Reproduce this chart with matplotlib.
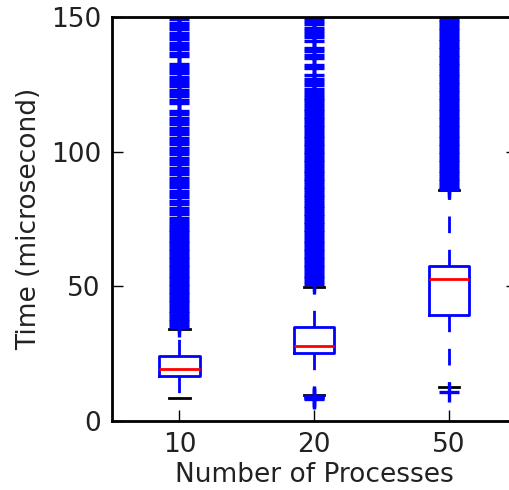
import matplotlib
matplotlib.use('Agg')
import matplotlib.pyplot as plt

# ---- data ----
categories = ['10', '20', '50']
q1 = [16.8, 25.1, 39.3]
median = [19.2, 27.8, 52.7]
q3 = [24.1, 35.0, 57.6]
whisker_low = [8.4, 9.7, 12.8]
whisker_high = [34.2, 49.8, 85.8]

fliers_10 = [35, 36, 37, 38, 39, 40, 41, 42, 43, 44, 45, 46, 47, 48, 49, 50,
             51, 52, 53, 54, 55, 56, 57, 58, 59, 60, 61, 62, 63, 64, 65, 66,
             67, 68, 69, 70, 71, 72, 73,
             74.3, 75.5, 76.9, 78.1, 79.2, 80.6, 81.8, 83.0, 84.1, 85.5, 86.7,
             88.0, 89.2, 90.3, 91.7, 92.9, 94.1, 95.4, 96.6, 97.8, 99.0, 100.3,
             101.5, 102.8, 104.0, 105.2, 106.5, 107.7, 108.9, 110.2, 111.4,
             112.6, 113.9, 115.1, 118.0, 119.2, 120.5, 121.7, 122.9, 124.2,
             125.4, 126.6, 127.9, 129.1, 130.3, 131.6, 132.7, 135.5, 136.7,
             138.0, 139.2, 140.4, 141.7, 142.9, 144.1, 145.4, 146.6, 147.8,
             149.1, 150.5, 152.0]
fliers_20 = [8.0, 8.4, 8.8, 9.2,
             51, 52, 53, 54, 55, 56, 57, 58, 59, 60, 61, 62, 63, 64, 65, 66,
             67, 68, 69, 70, 71, 72, 73, 74, 75, 76, 77, 78, 79, 80, 81, 82,
             83, 84, 85, 86, 87, 88, 89, 90, 91, 92, 93, 94, 95, 96, 97, 98,
             99, 100, 101, 102, 103, 104, 105, 106, 107, 108, 109, 110, 111,
             112, 113, 114, 115, 116, 117, 118, 119, 120, 121, 122,
             123.3, 124.6, 125.8, 127.0, 128.3, 131.0, 132.2, 134.8, 136.0,
             137.3, 138.5, 141.2, 142.4, 143.7, 144.9, 146.1, 147.4, 148.6,
             149.8, 151.0]
fliers_50 = [10.6,
             86, 87, 88, 89, 90, 91, 92, 93, 94, 95, 96, 97, 98, 99, 100, 101,
             102, 103, 104, 105, 106, 107, 108, 109, 110, 111, 112, 113, 114,
             115, 116, 117, 118, 119, 120, 121, 122, 123, 124, 125, 126, 127,
             128, 129, 130, 131, 132, 133, 134, 135, 136, 137, 138, 139, 140,
             141, 142, 143, 144, 145, 146, 147, 148, 149, 150, 151]
fliers = [fliers_10, fliers_20, fliers_50]

y_ticks = [0, 50, 100, 150]

stats = []
for i in range(len(categories)):
    stats.append(dict(med=median[i], q1=q1[i], q3=q3[i],
                      whislo=whisker_low[i], whishi=whisker_high[i],
                      fliers=fliers[i], label=categories[i]))

fig = plt.figure(figsize=(5.09 / 2, 4.9 / 2), dpi=200)
fig.patch.set_facecolor('white')
ax = fig.add_axes([112 / 509, 69 / 490, (516.5 - 112) / 509, (473 - 69) / 490])

positions = list(range(1, len(categories) + 1))
ax.bxp(stats, positions=positions, widths=0.3,
       boxprops=dict(color='b', linewidth=1),
       whiskerprops=dict(color='b', linestyle=(0, (6, 6)), linewidth=1),
       capprops=dict(color='k', linewidth=1),
       medianprops=dict(color='r', linewidth=1),
       flierprops=dict(marker='+', markeredgecolor='b', markersize=7,
                       markeredgewidth=1.2, linestyle='none'),
       manage_ticks=False)

ax.set_xlim(0.5, 3.5)
ax.set_ylim(0, 150)
ax.set_xticks(positions)
ax.set_xticklabels(categories)
ax.set_yticks(y_ticks)
ax.tick_params(direction='in', top=True, right=True, length=4, width=0.5,
               labelsize=9.5, pad=4, labelcolor='#222222')
for s in ax.spines.values():
    s.set_linewidth(1)
ax.set_xlabel('Number of Processes', fontsize=9.5, color='#222222', labelpad=1.5)
ax.set_ylabel('Time (microsecond)', fontsize=9.5, color='#222222', labelpad=3)

fig.savefig('out.png', dpi=200, facecolor='white')
